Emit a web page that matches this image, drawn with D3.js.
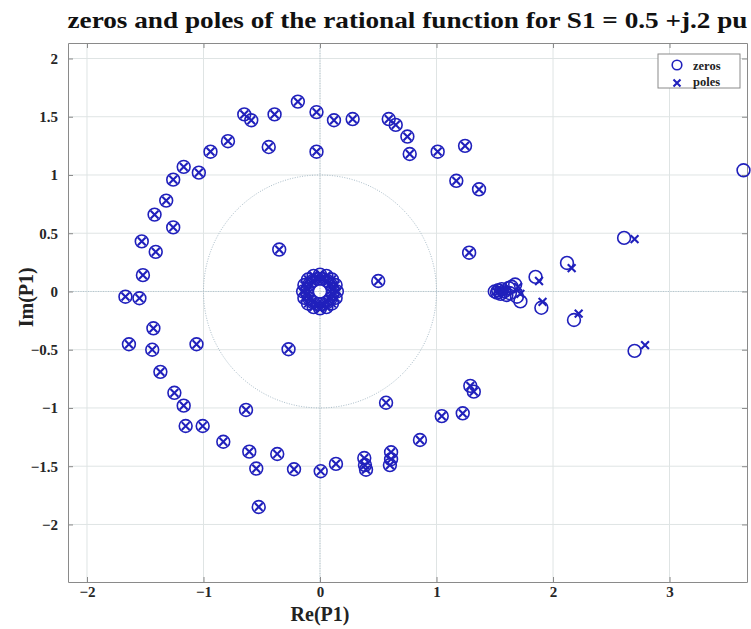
<!DOCTYPE html>
<html>
<head>
<meta charset="utf-8">
<script src="https://cdn.jsdelivr.net/npm/d3@7"></script>
<style>
  html, body { margin: 0; padding: 0; background: #fff; }
  svg { display: block; }
  text { font-family: "Liberation Serif", "Times New Roman", serif; font-weight: bold; }
</style>
</head>
<body>
<svg id="chart" width="751" height="629"></svg>
<script>
// Roots shared by numerator and denominator (a zero and a pole at the same spot)
const commonRoots = [
  [-0.19, 1.63], [-0.65, 1.52], [-0.59, 1.47], [-0.39, 1.52], [-0.03, 1.54],
  [0.12, 1.47], [0.28, 1.48], [0.59, 1.48], [0.65, 1.43], [0.75, 1.33],
  [0.77, 1.18], [-0.44, 1.24], [-0.03, 1.20], [-0.79, 1.29], [-0.94, 1.20],
  [-1.17, 1.07], [-1.04, 1.02], [-1.26, 0.96], [-1.32, 0.78], [-1.42, 0.66],
  [-1.26, 0.55], [-1.53, 0.43], [-1.41, 0.34], [-1.52, 0.14], [-1.67, -0.045],
  [-1.55, -0.058], [-0.35, 0.36], [0.50, 0.09], [1.01, 1.20], [1.245, 1.25],
  [1.17, 0.95], [1.365, 0.877], [1.28, 0.333], [1.29, -0.81], [1.32, -0.86],
  [0.567, -0.955], [1.045, -1.07], [1.225, -1.046], [0.858, -1.275],
  [0.61, -1.38], [0.61, -1.44], [0.60, -1.49], [0.38, -1.43], [0.386, -1.49],
  [0.395, -1.53], [0.137, -1.48], [-1.43, -0.316], [-1.64, -0.453],
  [-1.44, -0.50], [-1.06, -0.453], [-1.37, -0.69], [-1.25, -0.87],
  [-1.17, -0.98], [-1.153, -1.155], [-1.007, -1.155], [-0.83, -1.29],
  [-0.635, -1.017], [-0.607, -1.375], [-0.547, -1.52], [-0.367, -1.395],
  [-0.223, -1.526], [0.006, -1.543], [-0.526, -1.85], [-0.27, -0.496],
  // tight ring around the origin
  [0.145, 0.0], [0.134, 0.055], [0.103, 0.103], [0.055, 0.134], [0.0, 0.145],
  [-0.055, 0.134], [-0.103, 0.103], [-0.134, 0.055], [-0.145, 0.0],
  [-0.134, -0.055], [-0.103, -0.103], [-0.055, -0.134], [0.0, -0.145],
  [0.055, -0.134], [0.103, -0.103], [0.134, -0.055],
  [0.108, 0.021], [0.091, 0.061], [0.061, 0.091], [0.021, 0.108],
  [-0.021, 0.108], [-0.061, 0.091], [-0.091, 0.061], [-0.108, 0.021],
  [-0.108, -0.021], [-0.091, -0.061], [-0.061, -0.091], [-0.021, -0.108],
  [0.021, -0.108], [0.061, -0.091], [0.091, -0.061], [0.108, -0.021]
];

// Zeros that have no matching pole
const zerosOnly = [
  [1.50, 0.00], [1.52, -0.01], [1.53, 0.01], [1.55, -0.02], [1.56, 0.02],
  [1.58, 0.00], [1.60, -0.03], [1.62, 0.03], [1.645, 0.04], [1.675, 0.06],
  [1.63, -0.015], [1.69, -0.045], [1.72, -0.085], [1.85, 0.125], [1.90, -0.14],
  [2.12, 0.245], [2.18, -0.245], [2.61, 0.46], [2.70, -0.51], [3.635, 1.04]
];

// Poles that have no matching zero
const polesOnly = [
  [1.51, 0.00], [1.53, -0.005], [1.545, 0.01], [1.56, -0.01], [1.575, 0.015],
  [1.59, -0.005], [1.61, 0.01], [1.72, -0.02], [1.70, 0.04], [1.88, 0.09],
  [1.91, -0.09], [2.16, 0.20], [2.22, -0.19], [2.70, 0.45], [2.79, -0.46]
];

const xTicks = [-2, -1, 0, 1, 2, 3];
const yTicks = [-2, -1.5, -1, -0.5, 0, 0.5, 1, 1.5, 2];
const legendLabels = ["zeros", "poles"];

(function draw() {
  const zeros = commonRoots.concat(zerosOnly);
  const poles = commonRoots.concat(polesOnly);

  const svg = d3.select("#chart");
  const pLeft = 68, pRight = 747, pTop = 43, pBottom = 582;
  const x = d3.scaleLinear().domain([-2.163, 3.665]).range([pLeft, pRight]);
  const y = d3.scaleLinear().domain([-2.494, 2.133]).range([pBottom, pTop]);
  const markColor = "#2020bc";

  // grid
  const grid = svg.append("g");
  grid.selectAll(".gx").data(xTicks).join("line").attr("class", "gx")
    .attr("x1", d => x(d)).attr("x2", d => x(d)).attr("y1", pTop).attr("y2", pBottom)
    .attr("stroke", "#dfe4e4").attr("stroke-width", 1);
  grid.selectAll(".gy").data(yTicks).join("line").attr("class", "gy")
    .attr("y1", d => y(d)).attr("y2", d => y(d)).attr("x1", pLeft).attr("x2", pRight)
    .attr("stroke", "#dfe4e4").attr("stroke-width", 1);

  // unit circle and dotted real/imaginary axes
  const circ = d3.range(0, 361, 1).map(a => [Math.cos(a * Math.PI / 180), Math.sin(a * Math.PI / 180)]);
  svg.append("path")
    .attr("d", d3.line().x(d => x(d[0])).y(d => y(d[1]))(circ))
    .attr("fill", "none").attr("stroke", "#a9bcc8").attr("stroke-width", 1)
    .attr("stroke-dasharray", "1,1.5");
  svg.append("line").attr("x1", pLeft).attr("x2", pRight).attr("y1", y(0)).attr("y2", y(0))
    .attr("stroke", "#b4c6d0").attr("stroke-dasharray", "1,1.5");
  svg.append("line").attr("x1", x(0)).attr("x2", x(0)).attr("y1", pTop).attr("y2", pBottom)
    .attr("stroke", "#b4c6d0").attr("stroke-dasharray", "1,1.5");

  // axes with inward ticks on all four sides
  function styleAxis(g) {
    g.selectAll(".domain").attr("stroke", "#8a8a8a");
    g.selectAll(".tick line").attr("stroke", "#8a8a8a");
    g.selectAll("text").attr("fill", "#262626").style("font-size", "15px")
      .style("font-family", "'Liberation Serif', serif").style("font-weight", "bold");
  }
  svg.append("g").attr("transform", `translate(0,${pBottom})`)
    .call(d3.axisBottom(x).tickValues(xTicks).tickSizeInner(-5).tickSizeOuter(0).tickPadding(4).tickFormat(d3.format("d")))
    .call(styleAxis);
  svg.append("g").attr("transform", `translate(0,${pTop})`)
    .call(d3.axisTop(x).tickValues(xTicks).tickSizeInner(-5).tickSizeOuter(0).tickFormat(""))
    .call(styleAxis);
  svg.append("g").attr("transform", `translate(${pLeft},0)`)
    .call(d3.axisLeft(y).tickValues(yTicks).tickSizeInner(-5).tickSizeOuter(0).tickPadding(10).tickFormat(d => d3.format("")(d)))
    .call(styleAxis);
  svg.append("g").attr("transform", `translate(${pRight},0)`)
    .call(d3.axisRight(y).tickValues(yTicks).tickSizeInner(-5).tickSizeOuter(0).tickFormat(""))
    .call(styleAxis);

  // markers
  const r = 6.4, a = 3.9;
  svg.append("g").selectAll("circle").data(zeros).join("circle")
    .attr("cx", d => x(d[0])).attr("cy", d => y(d[1])).attr("r", r)
    .attr("fill", "none").attr("stroke", markColor).attr("stroke-width", 1.6);
  svg.append("g").selectAll("path").data(poles).join("path")
    .attr("d", d => `M${x(d[0]) - a},${y(d[1]) - a}L${x(d[0]) + a},${y(d[1]) + a}M${x(d[0]) - a},${y(d[1]) + a}L${x(d[0]) + a},${y(d[1]) - a}`)
    .attr("stroke", markColor).attr("stroke-width", 2.1).attr("fill", "none");

  // legend
  const lg = svg.append("g");
  lg.append("rect").attr("x", 658).attr("y", 54).attr("width", 82).attr("height", 34)
    .attr("fill", "#fff").attr("stroke", "#8a8a8a").attr("stroke-width", 1);
  lg.append("circle").attr("cx", 677).attr("cy", 65).attr("r", 4.8)
    .attr("fill", "none").attr("stroke", markColor).attr("stroke-width", 1.6);
  lg.append("path").attr("d", "M673.5,79.5L680.5,86.5M673.5,86.5L680.5,79.5")
    .attr("stroke", markColor).attr("stroke-width", 2.1);
  lg.selectAll("text").data(legendLabels).join("text")
    .attr("x", 693).attr("y", (d, i) => 69.5 + i * 16.5)
    .style("font-size", "12.5px").attr("fill", "#222").text(d => d);

  // titles
  svg.append("text").attr("x", (pLeft + pRight) / 2).attr("y", 28).attr("text-anchor", "middle")
    .attr("textLength", 680).attr("lengthAdjust", "spacingAndGlyphs")
    .style("font-size", "24px").attr("fill", "#111")
    .text("zeros and poles of the rational function for S1 = 0.5 +j.2 pu");
  svg.append("text").attr("x", x(0)).attr("y", 621).attr("text-anchor", "middle")
    .style("font-size", "20px").attr("fill", "#222").text("Re(P1)");
  svg.append("text").attr("transform", `translate(33,${y(-0.05)}) rotate(-90)`).attr("text-anchor", "middle")
    .style("font-size", "20px").attr("fill", "#222").text("Im(P1)");
})();
</script>
</body>
</html>
